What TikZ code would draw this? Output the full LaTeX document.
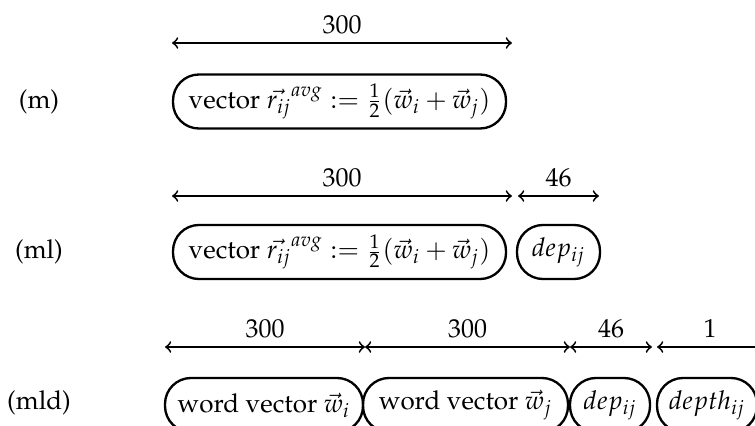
\documentclass[tikz,border=0pt]{standalone}
\usepackage[T1]{fontenc}
\usepackage{mathpazo}
\begin{document}
\begin{tikzpicture}[x=0.385pt,y=-0.385pt,
  box/.style={draw,line width=0.9pt,rounded corners=10pt,minimum height=20.8pt,inner sep=0pt},
  dim/.style={line width=0.7pt,<->},
  num/.style={inner sep=0pt}]
\useasboundingbox (0,0) rectangle (755,425);
\clip (0,0) rectangle (755,425);
% row labels
\node (lm) at (39,102) {(m)};
\node (lml) at (39,252) {(ml)};
\node (lmld) at (39,403) {(mld)};
% row 1
\coordinate (a1) at (172,43); \coordinate (b1) at (512,43);
\draw[dim] (a1) -- (b1);
\node[num] (n1) at (342,25) {300};
\node[box,minimum width=333*0.385pt] (m1) at (339.5,101.5) {vector $\vec{r_{ij}}^{avg} := \frac{1}{2}(\vec{w}_i + \vec{w}_j)$};
% row 2
\coordinate (a2) at (172,196); \coordinate (b2) at (512,196);
\coordinate (c2) at (518,196); \coordinate (d2) at (599,196);
\draw[dim] (a2) -- (b2);
\draw[dim] (c2) -- (d2);
\node[num] (n2) at (342,178) {300};
\node[num] (n3) at (558.5,178) {46};
\node[box,minimum width=333*0.385pt] (m2) at (339.5,252) {vector $\vec{r_{ij}}^{avg} := \frac{1}{2}(\vec{w}_i + \vec{w}_j)$};
\node[box,minimum width=83*0.385pt] (d2b) at (558.5,252) {$dep_{ij}$};
% row 3
\coordinate (a3) at (165,347); \coordinate (b3) at (365,347);
\coordinate (c3) at (570,347); \coordinate (d3) at (652,347);
\coordinate (e3) at (657,347); \coordinate (f3) at (763,347);
\draw[dim] (a3) -- (b3);
\draw[dim] (b3) -- (c3);
\draw[dim] (c3) -- (d3);
\draw[dim] (e3) -- (f3);
\node[num] (n4) at (265,329) {300};
\node[num] (n5) at (467.5,329) {300};
\node[num] (n6) at (611,329) {46};
\node[num] (n7) at (710,329) {1};
\node[box,minimum width=198*0.385pt] (w1) at (264,405) {word vector $\vec{w}_i$};
\node[box,minimum width=205*0.385pt] (w2) at (465.5,405) {word vector $\vec{w}_j$};
\node[box,minimum width=80*0.385pt] (dp) at (610,405) {$dep_{ij}$};
\node[box,minimum width=100*0.385pt] (dh) at (707,405) {$depth_{ij}$};
\end{tikzpicture}
\end{document}
